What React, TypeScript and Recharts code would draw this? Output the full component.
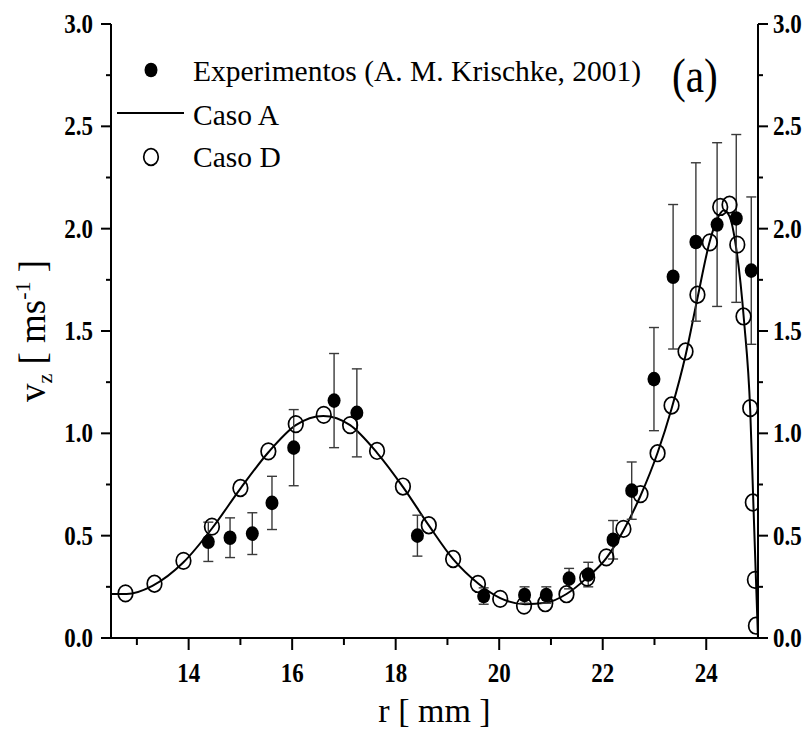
import { ComposedChart, ErrorBar, Line, Scatter, XAxis, YAxis } from 'recharts'

const FONT = '"Liberation Serif", "Times New Roman", serif'
const INK = '#000'

// Experimentos (A. M. Krischke, 2001): r [mm], v_z [m/s], half-height of the error bar
const expR = [14.38, 14.8, 15.23, 15.61, 16.03, 16.81, 17.25, 18.42, 19.7, 20.49, 20.91, 21.35, 21.72, 22.2, 22.56, 22.99, 23.36, 23.8, 24.21, 24.58, 24.87]
const expV = [0.47, 0.49, 0.51, 0.66, 0.93, 1.16, 1.1, 0.5, 0.205, 0.21, 0.21, 0.29, 0.31, 0.48, 0.72, 1.265, 1.765, 1.935, 2.02, 2.05, 1.795]
const expErr = [0.096, 0.097, 0.102, 0.13, 0.186, 0.23, 0.215, 0.1, 0.04, 0.04, 0.04, 0.05, 0.06, 0.094, 0.14, 0.252, 0.353, 0.387, 0.4, 0.41, 0.36]

// Caso A (solid line)
const casoAR = [12.5, 12.8, 13.3, 13.9, 14.45, 15.0, 15.55, 16.07, 16.6, 17.12, 17.64, 18.15, 18.64, 19.11, 19.6, 20.02, 20.5, 20.9, 21.3, 21.7, 22.07, 22.4, 22.73, 23.06, 23.33, 23.6, 23.83, 24.07, 24.2, 24.34, 24.45, 24.57, 24.73, 24.85, 24.91, 24.96, 25.0]
const casoAV = [0.215, 0.215, 0.255, 0.37, 0.535, 0.73, 0.91, 1.04, 1.085, 1.04, 0.905, 0.735, 0.55, 0.385, 0.265, 0.195, 0.165, 0.172, 0.215, 0.295, 0.39, 0.525, 0.695, 0.905, 1.12, 1.38, 1.66, 1.94, 2.04, 2.09, 2.06, 1.92, 1.55, 1.11, 0.66, 0.29, 0.0]

// Caso D (open circles)
const casoDR = [12.78, 13.34, 13.9, 14.45, 15.0, 15.54, 16.07, 16.61, 17.12, 17.64, 18.14, 18.64, 19.11, 19.59, 20.02, 20.48, 20.89, 21.3, 21.7, 22.07, 22.4, 22.73, 23.06, 23.33, 23.6, 23.83, 24.07, 24.27, 24.45, 24.6, 24.72, 24.85, 24.9, 24.94, 24.96]
const casoDV = [0.218, 0.265, 0.377, 0.544, 0.733, 0.912, 1.045, 1.09, 1.04, 0.914, 0.74, 0.551, 0.386, 0.264, 0.191, 0.158, 0.17, 0.214, 0.295, 0.394, 0.533, 0.703, 0.903, 1.136, 1.4, 1.677, 1.933, 2.106, 2.117, 1.922, 1.571, 1.123, 0.662, 0.284, 0.06]

const xTicks = [13, 14, 15, 16, 17, 18, 19, 20, 21, 22, 23, 24]
const xLabels = [14, 16, 18, 20, 22, 24]
const yTicks = [0, 0.25, 0.5, 0.75, 1, 1.25, 1.5, 1.75, 2, 2.25, 2.5, 2.75, 3]
const yLabels = [0, 0.5, 1, 1.5, 2, 2.5, 3]

const expData = expR.map((x, i) => ({ x, y: expV[i], err: expErr[i] }))
const casoAData = casoAR.map((x, i) => ({ x, y: casoAV[i] }))
const casoDData = casoDR.map((x, i) => ({ x, y: casoDV[i] }))

// bold Times digits in the source are narrow and tall
const tickText = { fontFamily: FONT, fontWeight: 700, fontSize: 27, fill: INK }
const squeeze = (x: number, y: number) => `translate(${x} ${y}) scale(0.85 1)`

function BottomTick({ x, y, payload }: any) {
  const major = xLabels.includes(payload.value)
  return (
    <g>
      <line x1={x} x2={x} y1={y} y2={y + (major ? 12 : 7)} stroke={INK} strokeWidth={2} />
      {major && (
        <text transform={squeeze(x, y + 35)} textAnchor="middle" dominantBaseline="central" {...tickText}>
          {payload.value}
        </text>
      )}
    </g>
  )
}

function TopTick({ x, y, payload }: any) {
  const major = xLabels.includes(payload.value)
  return <line x1={x} x2={x} y1={y} y2={y + (major ? 11 : 6)} stroke={INK} strokeWidth={2} />
}

function LeftTick({ x, y, payload }: any) {
  const major = yLabels.includes(payload.value)
  return (
    <g>
      <line x1={x - (major ? 10 : 5)} x2={x} y1={y} y2={y} stroke={INK} strokeWidth={2} />
      {major && (
        <text transform={squeeze(x - 18, y)} textAnchor="end" dominantBaseline="central" {...tickText}>
          {payload.value.toFixed(1)}
        </text>
      )}
    </g>
  )
}

function RightTick({ x, y, payload }: any) {
  const major = yLabels.includes(payload.value)
  return (
    <g>
      <line x1={x} x2={x + (major ? 10 : 5)} y1={y} y2={y} stroke={INK} strokeWidth={2} />
      {major && (
        <text transform={squeeze(x + 15, y)} textAnchor="start" dominantBaseline="central" {...tickText}>
          {payload.value.toFixed(1)}
        </text>
      )}
    </g>
  )
}

function XTitle(props: any) {
  const vb = props.viewBox ?? { x: 111, y: 638, width: 647, height: 70 }
  return (
    <text x={vb.x + vb.width / 2} y={vb.y + 84} textAnchor="middle" fontFamily={FONT} fontSize={34} fill={INK}>
      r [ mm ]
    </text>
  )
}

function YTitle(props: any) {
  const vb = props.viewBox ?? { x: 1, y: 24, width: 110, height: 614 }
  const cx = vb.x + 44
  const cy = vb.y + vb.height / 2
  return (
    <text
      x={cx}
      y={cy}
      transform={`rotate(-90, ${cx}, ${cy})`}
      textAnchor="middle"
      fontFamily={FONT}
      fontSize={37}
      fill={INK}
    >
      v<tspan fontSize={22} dy={7}>z</tspan>
      <tspan dy={-7}> [ ms</tspan>
      <tspan fontSize={22} dy={-15}>-1</tspan>
      <tspan dy={15}> ]</tspan>
    </text>
  )
}

const openCircle = (p: any) => (
  <ellipse cx={p.cx} cy={p.cy} rx={7.3} ry={8.3} fill="none" stroke={INK} strokeWidth={1.7} />
)
const filledCircle = (p: any) => <ellipse cx={p.cx} cy={p.cy} rx={6.5} ry={7.3} fill={INK} />

const axisLine = { stroke: INK, strokeWidth: 2 }

export default function App() {
  return (
    <div style={{ position: 'fixed', left: 0, top: 0, width: 809, height: 730, background: '#fff' }}>
      <ComposedChart width={809} height={730} margin={{ top: 24, right: 1, bottom: 22, left: 1 }}>
        <XAxis
          xAxisId="bottom"
          dataKey="x"
          type="number"
          domain={[12.5, 25]}
          allowDataOverflow
          ticks={xTicks}
          interval={0}
          height={70}
          tickSize={0}
          tickMargin={0}
          tickLine={false}
          axisLine={axisLine}
          tick={BottomTick}
          label={XTitle}
        />
        <XAxis
          xAxisId="top"
          orientation="top"
          dataKey="x"
          type="number"
          domain={[12.5, 25]}
          allowDataOverflow
          ticks={xTicks}
          interval={0}
          height={0}
          tickSize={0}
          tickMargin={0}
          tickLine={false}
          axisLine={axisLine}
          tick={TopTick}
        />
        <YAxis
          yAxisId="left"
          type="number"
          domain={[0, 3]}
          allowDataOverflow
          ticks={yTicks}
          interval={0}
          width={110}
          tickSize={0}
          tickMargin={0}
          tickLine={false}
          axisLine={axisLine}
          tick={LeftTick}
          label={YTitle}
        />
        <YAxis
          yAxisId="right"
          orientation="right"
          type="number"
          domain={[0, 3]}
          allowDataOverflow
          ticks={yTicks}
          interval={0}
          width={50}
          tickSize={0}
          tickMargin={0}
          tickLine={false}
          axisLine={axisLine}
          tick={RightTick}
        />
        <Line
          xAxisId="bottom"
          yAxisId="left"
          data={casoAData}
          dataKey="y"
          type="monotone"
          stroke={INK}
          strokeWidth={2}
          dot={false}
          isAnimationActive={false}
        />
        <Scatter
          xAxisId="bottom"
          yAxisId="left"
          data={casoDData}
          dataKey="y"
          shape={openCircle}
          isAnimationActive={false}
        />
        <Scatter
          xAxisId="bottom"
          yAxisId="left"
          data={expData}
          dataKey="y"
          shape={filledCircle}
          isAnimationActive={false}
        >
          <ErrorBar dataKey="err" direction="y" width={5} stroke="#3a3a3a" strokeWidth={1.4} isAnimationActive={false} />
        </Scatter>
      </ComposedChart>

      {/* legend and panel tag, drawn over the plot */}
      <svg width={809} height={730} style={{ position: 'absolute', left: 0, top: 0, pointerEvents: 'none' }}>
        <g fontFamily={FONT} fontSize={29.5} fill={INK}>
          <ellipse cx={151} cy={70} rx={6.5} ry={7.3} fill={INK} />
          <text x={193} y={81}>Experimentos (A. M. Krischke, 2001)</text>
          <line x1={117} x2={184} y1={113} y2={113} stroke={INK} strokeWidth={2} />
          <text x={193} y={125}>Caso A</text>
          <ellipse cx={151} cy={157} rx={7.3} ry={8.3} fill="none" stroke={INK} strokeWidth={1.7} />
          <text x={193} y={167}>Caso D</text>
          <text transform="translate(672 92) scale(0.86 1)" fontSize={48}>(a)</text>
        </g>
      </svg>
    </div>
  )
}
